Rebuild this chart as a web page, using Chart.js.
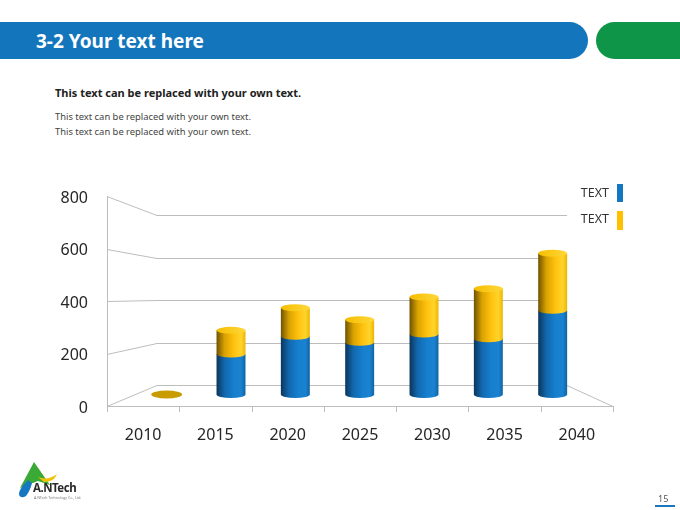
<!DOCTYPE html>
<html>
<head>
<meta charset="utf-8">
<script src="https://cdn.jsdelivr.net/npm/chart.js@4.4.1/dist/chart.umd.min.js"></script>
<style>
  html,body{margin:0;padding:0;}
  body{width:680px;height:510px;position:relative;overflow:hidden;background:#fff;font-family:"Noto Sans",sans-serif;}
  .hdr{position:absolute;left:0;top:22px;width:588px;height:37px;background:#1376BD;border-radius:0 19px 19px 0;}
  .grn{position:absolute;left:596px;top:22px;width:110px;height:37px;background:#0F9547;border-radius:19px 0 0 19px;}
  .title{position:absolute;left:36px;top:23px;line-height:37px;font-size:19px;font-weight:bold;color:#fff;white-space:nowrap;}
  .sub{position:absolute;left:55px;top:85px;font-size:11px;font-weight:bold;color:#222;white-space:nowrap;}
  .txt{position:absolute;left:55px;font-size:9.4px;color:#444;white-space:nowrap;}
  #wrap{position:absolute;left:0;top:160px;width:680px;height:300px;}
  .logo{position:absolute;left:14px;top:458px;}
  .brand{position:absolute;left:33px;top:480px;font-size:11.5px;font-weight:bold;color:#2a2a2a;letter-spacing:-0.5px;white-space:nowrap;}
  .brand2{position:absolute;left:34px;top:495px;font-size:3.5px;color:#777;white-space:nowrap;}
  .pg{position:absolute;left:658px;top:492px;font-size:9px;color:#555;}
  .pgl{position:absolute;left:655px;top:505px;width:20px;height:1.5px;background:#1a75bc;}
</style>
</head>
<body>
<div class="hdr"></div>
<div class="grn"></div>
<div class="title">3-2 Your text here</div>
<div class="sub">This text can be replaced with your own text.</div>
<div class="txt" style="top:110px">This text can be replaced with your own text.</div>
<div class="txt" style="top:125px">This text can be replaced with your own text.</div>
<div id="wrap"><canvas id="c" width="680" height="300"></canvas></div>
<svg class="logo" width="70" height="45" viewBox="0 0 70 45">
  <path d="M20 4 L36 27 L24 23 L6 30 Z" fill="#3BA935"/>
  <path d="M24 19 Q34 23 43 16 Q40 24 30 24 Z" fill="#F2C200"/>
  <path d="M14 22 Q4 32 5 37 Q7 41 12 38 Q16 33 18 25 Z" fill="#1577C2"/>
</svg>
<div class="brand">A.NTech</div>
<div class="brand2">A.NTech Technology Co., Ltd.</div>
<div class="pg">15</div>
<div class="pgl"></div>
<script>
const categories = ['2010','2015','2020','2025','2030','2035','2040'];
const seriesBlue = [0, 170, 245, 220, 255, 235, 355];
const seriesYellow = [0, 100, 120, 95, 155, 210, 240];
const yTickValues = [0, 200, 400, 600, 800];
const legendLabels = ['TEXT', 'TEXT'];

const seriesColors = ['#1577C2', '#FFC000'];
const gradStops = [
  [[0,'#0A355C'],[0.28,'#1268AE'],[0.6,'#167FCE'],[0.85,'#1A82D0'],[1,'#1063A3']],
  [[0,'#6E5200'],[0.28,'#D9A200'],[0.6,'#FFC20E'],[0.85,'#FFD42C'],[1,'#EDB400']]
];

const cylPlugin = {
  id: 'cyl',
  beforeDatasetsDraw(chart) {
    const ctx = chart.ctx, a = chart.chartArea, ys = chart.scales.y, xs = chart.scales.x;
    const L = a.left, R = a.right, B = a.bottom, T = a.top;
    const bL = L + 50, bR = R - 46;
    const by = fy => (B - 21) - (B - fy) * (170 / 210);
    ctx.save();
    ctx.strokeStyle = '#BDBDBD';
    ctx.lineWidth = 1;
    ctx.beginPath();
    yTickValues.forEach(v => {
      const fy = Math.round(ys.getPixelForValue(v)) + 0.5;
      const b = Math.round(by(fy)) + 0.5;
      ctx.moveTo(L, fy); ctx.lineTo(bL, b);
      ctx.moveTo(bL, b); ctx.lineTo(bR, b);
    });
    ctx.moveTo(L + 0.5, T); ctx.lineTo(L + 0.5, B);
    ctx.moveTo(L, B + 0.5); ctx.lineTo(R, B + 0.5);
    ctx.lineTo(bR, Math.round(by(B)) + 0.5);
    const n = categories.length;
    for (let i = 0; i <= n; i++) {
      let px;
      if (i === 0) px = L; else if (i === n) px = R;
      else px = (xs.getPixelForValue(i - 1) + xs.getPixelForValue(i)) / 2;
      px = Math.round(px) + 0.5;
      ctx.moveTo(px, B); ctx.lineTo(px, B + 6);
    }
    ctx.stroke();
    ctx.restore();
  },
  afterDatasetsDraw(chart) {
    const ctx = chart.ctx, a = chart.chartArea;
    const L = a.left, R = a.right, B = a.bottom, T = a.top;
    const cx0 = (L + R) / 2 - 3;
    const X = fx => cx0 + 0.89 * (fx - cx0);
    const Y = fy => (B - 11.5) - (B - fy) * 0.905;
    const ry = 3.5;
    const grad = (x, rx, k) => {
      const g = ctx.createLinearGradient(x - rx, 0, x + rx, 0);
      gradStops[k].forEach(s => g.addColorStop(s[0], s[1]));
      return g;
    };
    const seg = (x, rx, yTop, yBot, k) => {
      ctx.beginPath();
      ctx.moveTo(x - rx, yTop);
      ctx.lineTo(x - rx, yBot);
      ctx.ellipse(x, yBot, rx, ry, 0, Math.PI, 0, true);
      ctx.lineTo(x + rx, yTop);
      ctx.closePath();
      ctx.fillStyle = grad(x, rx, k);
      ctx.fill();
    };
    const m0 = chart.getDatasetMeta(0).data, m1 = chart.getDatasetMeta(1).data;
    ctx.save();
    for (let j = 0; j < categories.length; j++) {
      const e0 = m0[j], e1 = m1[j];
      const x = X(e0.x);
      const rx = e0.width * 0.89 / 2;
      const yBase = Y(e0.base), yMid = Y(e0.y), yTop = Y(e1.y);
      if (seriesBlue[j] > 0) seg(x, rx, yMid, yBase, 0);
      if (seriesYellow[j] > 0) seg(x, rx, yTop, yMid, 1);
      ctx.beginPath();
      if (seriesBlue[j] + seriesYellow[j] === 0) {
        ctx.ellipse(x, yBase, rx + 1, ry + 0.5, 0, 0, Math.PI * 2);
        ctx.fillStyle = '#C89C00';
      } else {
        ctx.ellipse(x, yTop, rx, ry, 0, 0, Math.PI * 2);
        const k = seriesYellow[j] > 0 ? 1 : 0;
        const g = ctx.createLinearGradient(x - rx, 0, x + rx, 0);
        if (k === 1) { g.addColorStop(0, '#F5BD00'); g.addColorStop(1, '#FFD83A'); }
        else { g.addColorStop(0, '#1A78C4'); g.addColorStop(1, '#2A8CD8'); }
        ctx.fillStyle = g;
      }
      ctx.fill();
    }
    // legend
    ctx.font = '12.5px "Noto Sans"';
    ctx.textAlign = 'right';
    ctx.textBaseline = 'middle';
    const ly = [T - 3, T + 23];
    chart.data.datasets.forEach((ds, i) => {
      ctx.fillStyle = '#333';
      ctx.fillText(legendLabels[i], R - 4, ly[i]);
      ctx.fillStyle = seriesColors[i];
      ctx.fillRect(R + 4, ly[i] - 9 + i * 1, 6, 18 + i);
    });
    ctx.restore();
  }
};

new Chart(document.getElementById('c'), {
  type: 'bar',
  data: {
    labels: categories,
    datasets: [
      { label: legendLabels[0], data: seriesBlue, backgroundColor: 'rgba(0,0,0,0)', categoryPercentage: 1, barPercentage: 0.45 },
      { label: legendLabels[1], data: seriesYellow, backgroundColor: 'rgba(0,0,0,0)', categoryPercentage: 1, barPercentage: 0.45 }
    ]
  },
  options: {
    responsive: false,
    animation: false,
    layout: { padding: { left: 0, right: 67, top: 36, bottom: 0 } },
    plugins: { legend: { display: false }, tooltip: { enabled: false } },
    scales: {
      x: {
        stacked: true,
        offset: true,
        grid: { display: false, drawTicks: false },
        border: { display: false },
        ticks: { font: { family: 'Noto Sans', size: 16 }, color: '#262626', padding: 20 },
        afterFit: s => { s.height = 54; }
      },
      y: {
        stacked: true,
        min: 0, max: 800,
        grid: { display: false, drawTicks: false },
        border: { display: false },
        afterBuildTicks: s => { s.ticks = yTickValues.map(v => ({ value: v })); },
        ticks: { font: { family: 'Noto Sans', size: 16 }, color: '#262626', padding: 19, labelOffset: 2 },
        afterFit: s => { s.width = 107; }
      }
    }
  },
  plugins: [cylPlugin]
});
</script>
</body>
</html>
